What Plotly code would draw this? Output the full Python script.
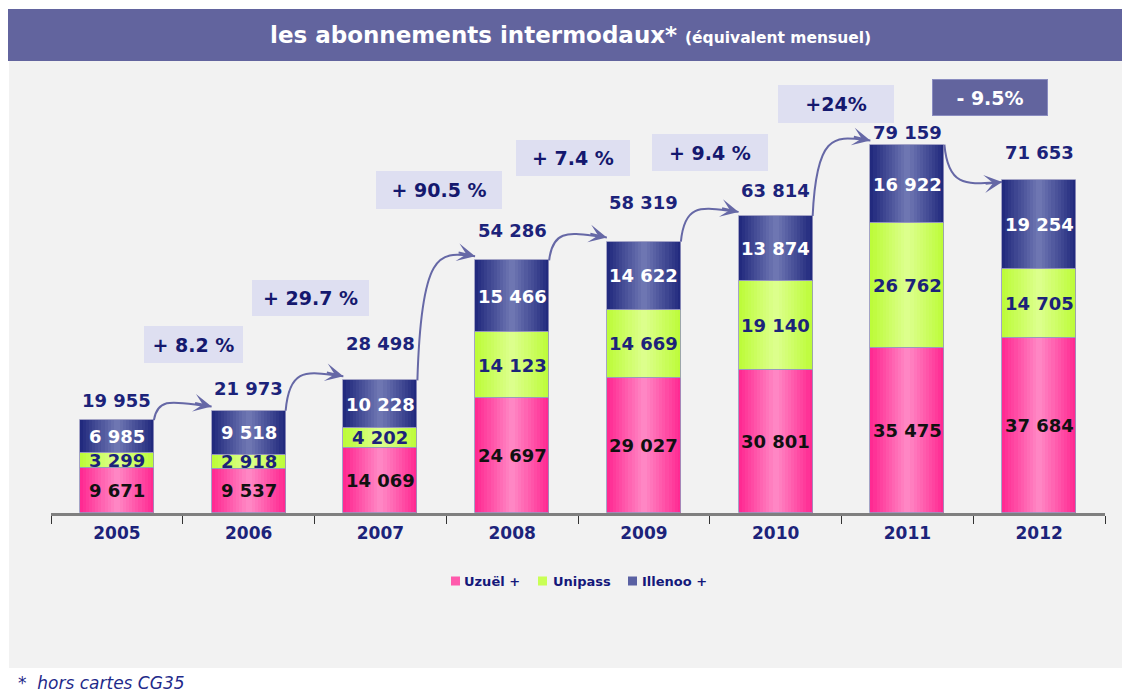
import plotly.graph_objects as go

# ---------------- data ----------------
years = ["2005", "2006", "2007", "2008", "2009", "2010", "2011", "2012"]
uzuel = [9671, 9537, 14069, 24697, 29027, 30801, 35475, 37684]
unipass = [3299, 2918, 4202, 14123, 14669, 19140, 26762, 14705]
illenoo = [6985, 9518, 10228, 15466, 14622, 13874, 16922, 19254]
totals = [19955, 21973, 28498, 54286, 58319, 63814, 79159, 71653]
growth = ["+ 8.2 %", "+ 29.7 %", "+ 90.5 %", "+ 7.4 %", "+ 9.4 %", "+24%", "- 9.5%"]

# ---------------- layout helpers ----------------
FONT = "DejaVu Sans"
NAVY = "#1c237a"
OFF = 8                      # page body margin
FW, FH = 1130 - OFF, 693 - OFF
L, R, T, B = 51 - OFF, 25, 95 - OFF, 180
PW, PH = FW - L - R, FH - T - B


def px(x):
    """page x pixel -> paper coordinate"""
    return (x - OFF - L) / PW


def py(y):
    """page y pixel -> paper coordinate"""
    return (FH - B - (y - OFF)) / PH


def fmt(v):
    return f"{v:,}".replace(",", " ")


def hex2rgb(h):
    h = h.lstrip("#")
    return tuple(int(h[i:i + 2], 16) for i in (0, 2, 4))


def lerp(c1, c2, t):
    a, b = hex2rgb(c1), hex2rgb(c2)
    return "rgb(%d,%d,%d)" % tuple(round(a[i] + (b[i] - a[i]) * t) for i in range(3))


W = 0.562
N = 12
xs = list(range(len(years)))

series = [
    ("Uzuël +", uzuel, "#ff2a92", "#ff86c4", "#ff5aac", "#111111"),
    ("Unipass", unipass, "#bdfc3a", "#dcff8c", "#c9ff55", NAVY),
    ("Illenoo +", illenoo, "#222a7e", "#6e76b2", "#5a61a3", "#ffffff"),
]

fig = go.Figure()
annotations = []
shapes = []
base = [0] * len(years)
bases = []
for name, vals, edge, center, sw, tcol in series:
    bases.append(base[:])
    for k in range(N):
        t = k / (N - 1)
        fig.add_trace(go.Bar(
            x=xs, y=vals, base=base[:], width=W * (1 - k / N),
            marker=dict(color=lerp(edge, center, t), line=dict(width=0)),
            name=name, showlegend=False, hoverinfo="skip"))
    for i, v in enumerate(vals):
        annotations.append(dict(
            x=i, y=base[i] + v / 2, xref="x", yref="y", showarrow=False,
            xanchor="center", yanchor="middle",
            text=fmt(v), font=dict(family=FONT, size=18, color=tcol, weight="bold")))
    base = [b + v for b, v in zip(base, vals)]

tops = base[:]

# outlines over the segments
for (name, vals, edge, center, sw, tcol), bs in zip(series, bases):
    fig.add_trace(go.Bar(
        x=xs, y=vals, base=bs, width=W, name=name,
        marker=dict(color="rgba(0,0,0,0)", line=dict(width=1, color="rgba(150,150,190,0.85)")),
        showlegend=False, hoverinfo="skip"))

# totals above bars
tot_shift = [20, 22, 37, 30, 39, 26, 12, 27]
for i, v in enumerate(totals):
    annotations.append(dict(
        x=i, y=tops[i], xref="x", yref="y", showarrow=False,
        xanchor="center", yanchor="middle",
        yshift=tot_shift[i], text=fmt(v),
        font=dict(family=FONT, size=18, color=NAVY, weight="bold")))

# curved arrows between bars
ARROW = "#6668a6"
for i in range(len(years) - 1):
    inc = tops[i + 1] >= tops[i]
    x0, y0 = i + W / 2, tops[i]
    x1 = i + 1 - W / 2
    y1 = tops[i + 1] + (900 if inc else -500)
    s = 2500 if inc else -1500
    c1x, c1y = x0 + 0.03, y1 + s
    c2x, c2y = x0 + 0.18, y1 + 0.3 * s
    shapes.append(dict(
        type="path", xref="x", yref="y", layer="above",
        path=f"M {x0},{y0} C {c1x},{c1y} {c2x},{c2y} {x1},{y1}",
        line=dict(color=ARROW, width=2)))
    annotations.append(dict(
        x=x1, y=y1, xref="x", yref="y", text="", showarrow=True,
        ax=-18, ay=(-4 if inc else 2), arrowhead=3, arrowsize=1.5,
        arrowwidth=2, arrowcolor=ARROW, standoff=0))

# growth boxes (page pixel centres, widths, heights)
box_cx = [193, 310, 439, 573, 710, 836, 990]
box_cy = [344, 298, 190, 158, 152, 104, 98]
box_w = [95, 113, 122, 110, 112, 112, 112]
box_h = [33, 32, 34, 32, 33, 34, 33]
for i, g in enumerate(growth):
    dark = g.startswith("-")
    annotations.append(dict(
        x=px(box_cx[i]), y=py(box_cy[i]), xref="paper", yref="paper",
        xanchor="center", yanchor="middle",
        showarrow=False, text=g, width=box_w[i], height=box_h[i],
        bgcolor="#62649e" if dark else "#dedff1",
        bordercolor="#8a8cc0" if dark else "#dedff1", borderwidth=1,
        font=dict(family=FONT, size=19, color="#ffffff" if dark else "#14186e",
                  weight="bold")))

# title band and panel
shapes.insert(0, dict(type="rect", xref="paper", yref="paper", layer="below",
                      x0=px(9), x1=px(1130), y0=py(668), y1=py(61),
                      fillcolor="#f2f2f2", line=dict(width=0)))
shapes.insert(1, dict(type="rect", xref="paper", yref="paper", layer="below",
                      x0=px(4), x1=px(1130), y0=py(61), y1=py(9),
                      fillcolor="#62649e", line=dict(width=0)))

annotations.append(dict(
    x=px(679), y=py(35), xref="paper", yref="paper", xanchor="right",
    yanchor="middle", showarrow=False, text="les abonnements intermodaux*",
    font=dict(family=FONT, size=23, color="#ffffff", weight="bold")))
annotations.append(dict(
    x=px(683), y=py(37.5), xref="paper", yref="paper", xanchor="left",
    yanchor="middle", showarrow=False, text="(équivalent mensuel)",
    font=dict(family=FONT, size=15.5, color="#ffffff", weight="bold")))

# legend (drawn as swatches + labels)
leg_sw_x = [451, 538, 628]
leg_tx_x = [462, 551, 640]
for (name, vals, edge, center, sw, tcol), sx, tx in zip(series, leg_sw_x, leg_tx_x):
    shapes.append(dict(type="rect", xref="paper", yref="paper", layer="above",
                       x0=px(sx), x1=px(sx + 9), y0=py(585.5), y1=py(576.5),
                       fillcolor=sw, line=dict(width=0)))
    annotations.append(dict(
        x=px(tx), y=py(581), xref="paper", yref="paper", xanchor="left",
        yanchor="middle", showarrow=False, text=name,
        font=dict(family=FONT, size=13, color="#14187a", weight="bold")))

annotations.append(dict(
    x=px(16), y=py(683), xref="paper", yref="paper", xanchor="left",
    yanchor="middle", showarrow=False, text="<i>*  hors cartes CG35</i>",
    font=dict(family=FONT, size=17, color="#1f2a8a")))

fig.update_layout(
    width=FW, height=FH, autosize=False,
    margin=dict(l=L, r=R, t=T, b=B, pad=0),
    paper_bgcolor="#ffffff", plot_bgcolor="rgba(0,0,0,0)",
    barmode="overlay", bargap=0,
    showlegend=False,
    shapes=shapes, annotations=annotations,
    xaxis=dict(range=[-0.5, len(years) - 0.5], tickmode="array", tickvals=xs,
               ticktext=years, ticks="", showgrid=False, zeroline=False,
               showline=True, linecolor="#7f7f7f", linewidth=3,
               ticklabelstandoff=3, fixedrange=True,
               tickfont=dict(family=FONT, size=17, color=NAVY, weight="bold"),
               minor=dict(tickmode="array",
                          tickvals=[i - 0.5 for i in range(len(years) + 1)],
                          ticks="outside", ticklen=8, tickwidth=1,
                          tickcolor="#333333", showgrid=False)),
    yaxis=dict(range=[0, PH / 4.653 * 1000], visible=False, fixedrange=True),
)

fig.write_html("out.html")
